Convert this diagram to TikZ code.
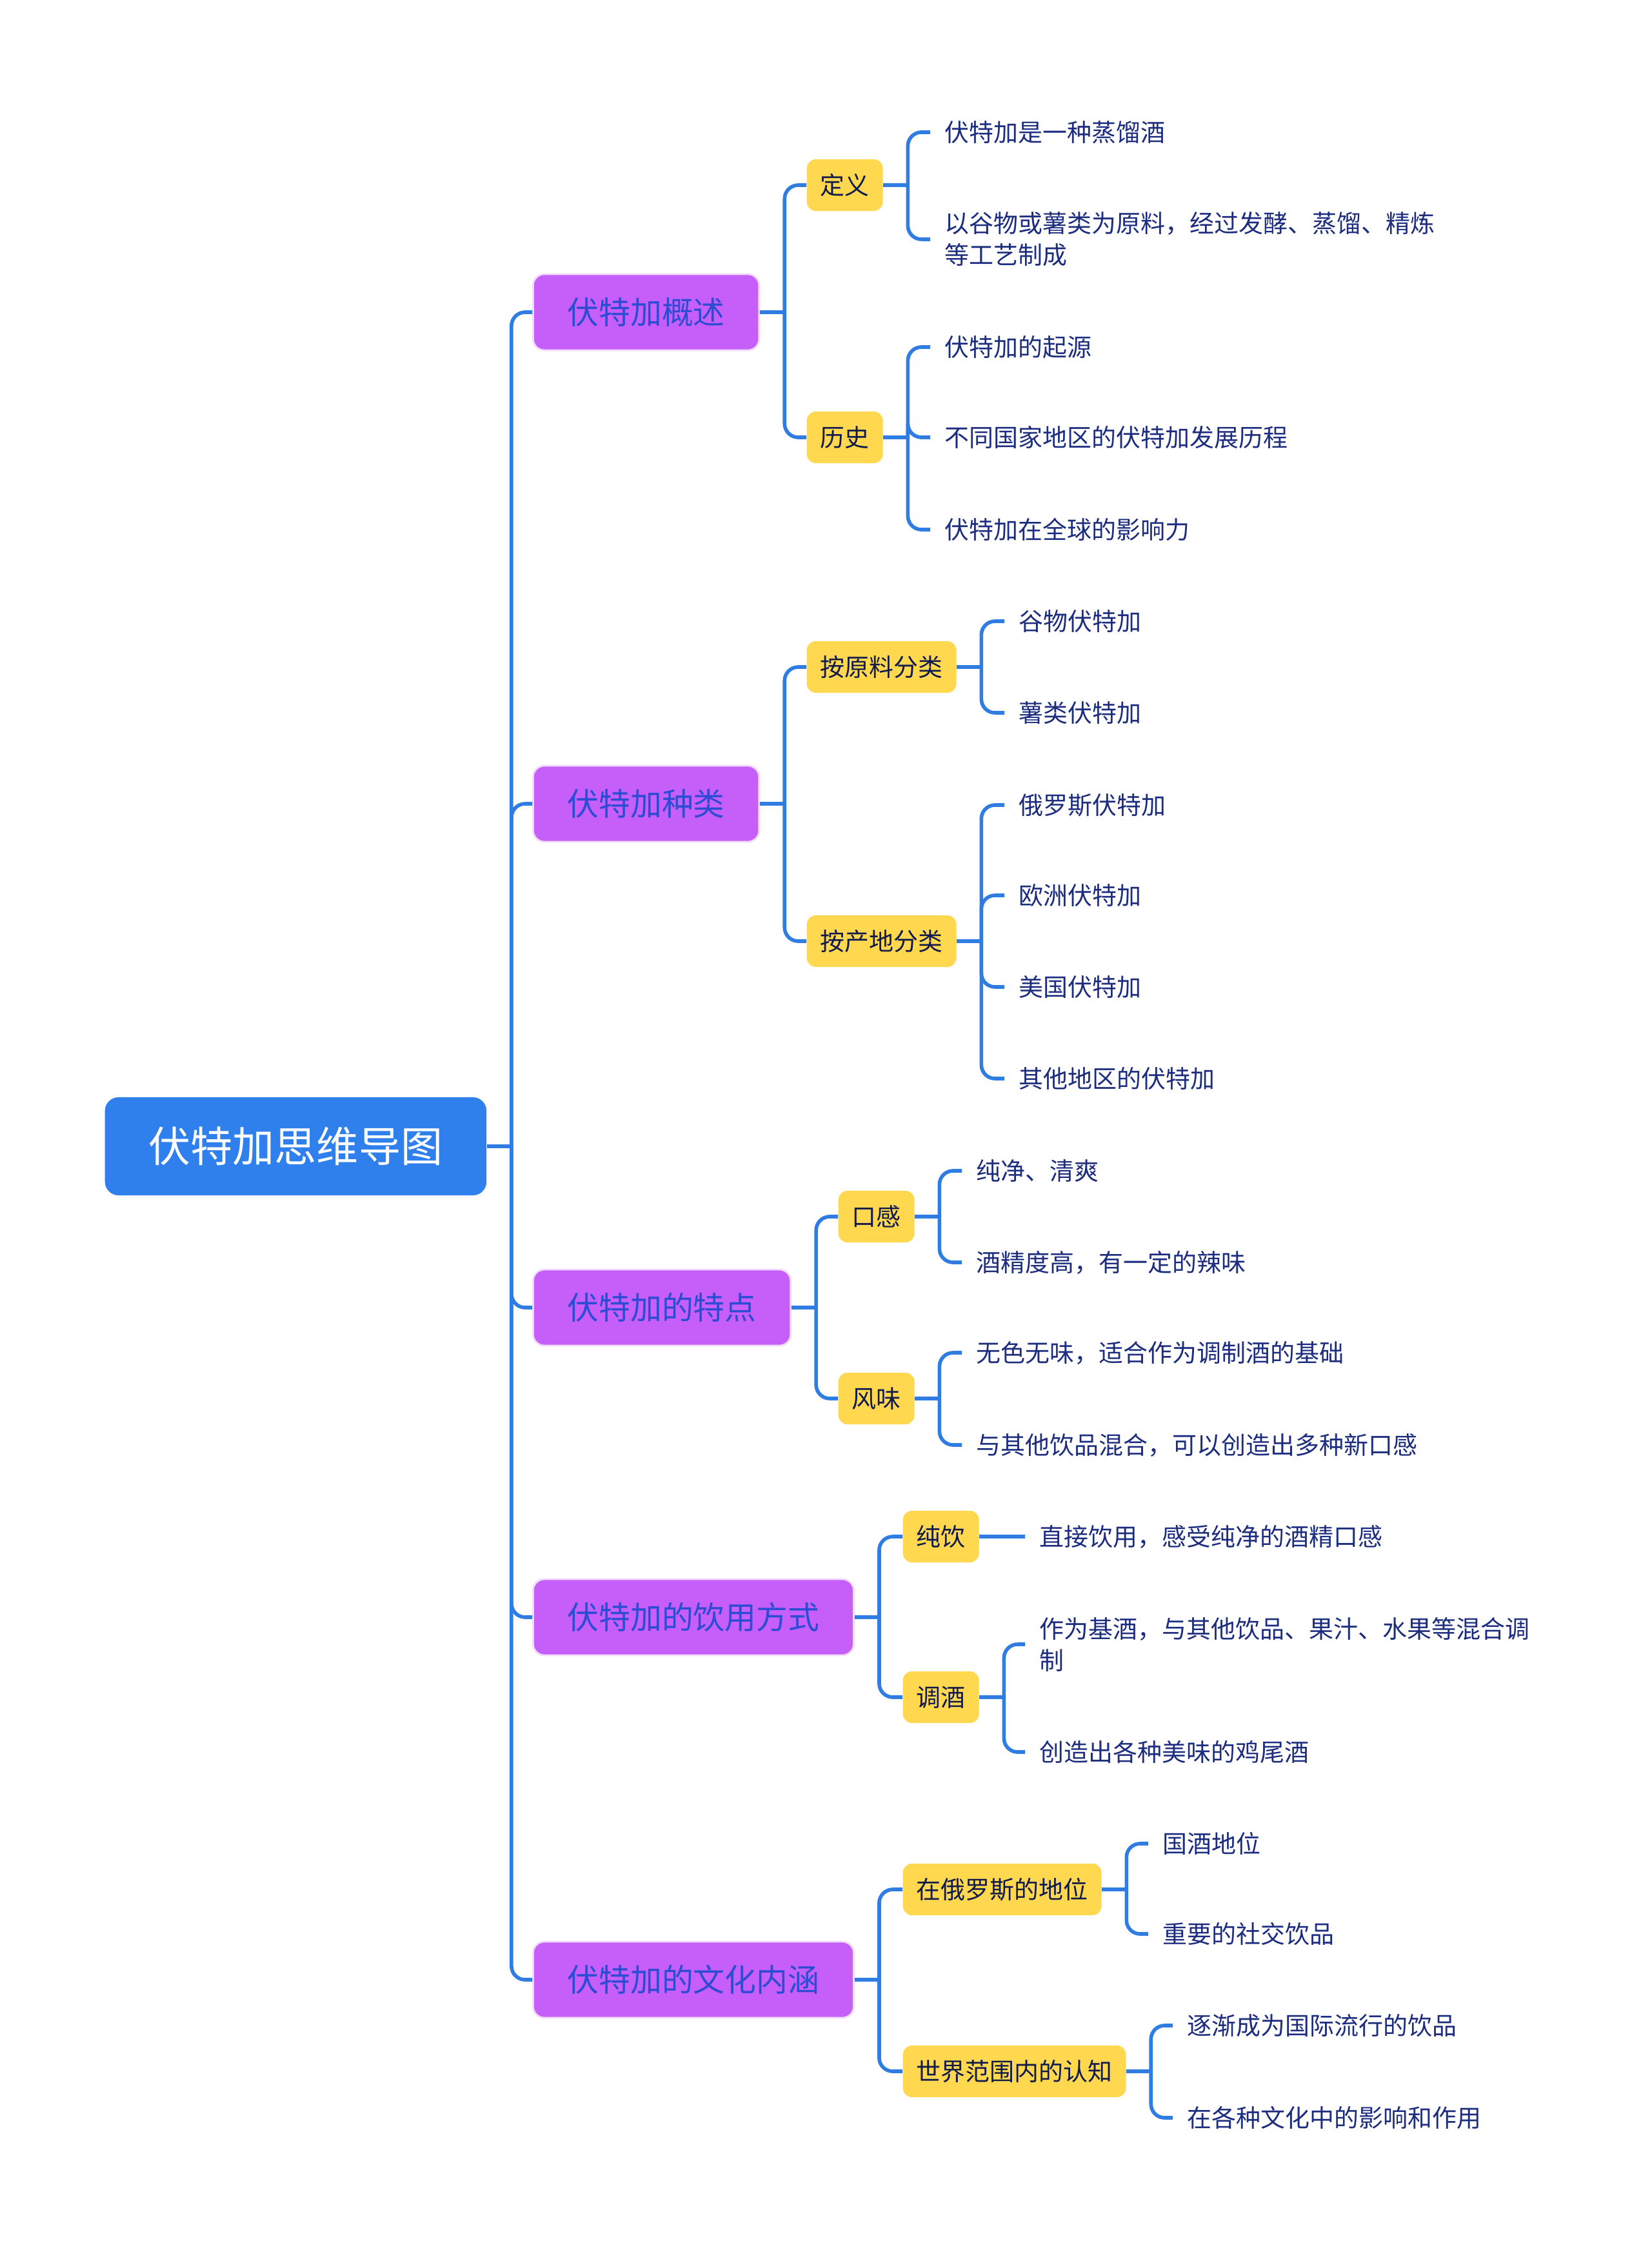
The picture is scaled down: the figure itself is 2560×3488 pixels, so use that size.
\documentclass[tikz,border=0pt]{standalone}
\usepackage{fontspec}
\setmainfont{Noto Sans CJK SC}
\usetikzlibrary{calc}
\definecolor{rootblue}{HTML}{2F80ED}
\definecolor{linkblue}{HTML}{2F7CE3}
\definecolor{topicpurple}{HTML}{C65FF9}
\definecolor{topicink}{HTML}{2B4CD3}
\definecolor{subyellow}{HTML}{FFD84F}
\definecolor{leafink}{HTML}{1C2C7E}
\tikzset{
  rootnode/.style  = {fill=rootblue, text=white, rounded corners=6pt, anchor=west,
                      minimum height=1.52cm, inner xsep=0.68cm,
                      font=\fontsize{18.5}{22}\selectfont},
  topicnode/.style = {fill=topicpurple, draw=topicpurple!22, line width=0.8pt,
                      text=topicink, rounded corners=5pt, anchor=west,
                      minimum height=1.18cm, inner xsep=0.53cm,
                      font=\fontsize{13.9}{17}\selectfont},
  subnode/.style   = {fill=subyellow, text=leafink!60!black, rounded corners=4pt,
                      anchor=west, minimum height=0.8cm, inner xsep=0.21cm,
                      font=\fontsize{10.8}{13.9}\selectfont},
  leafnode/.style  = {text=leafink, anchor=west, inner xsep=0.22cm, inner ysep=0pt,
                      align=left, font=\fontsize{10.8}{13.9}\selectfont},
  link/.style      = {draw=linkblue, line width=1.6pt, rounded corners=6pt},
}

\begin{document}
\begin{tikzpicture}[x=0.01cm, y=-0.01cm]
  \useasboundingbox (0,0) rectangle (2560,3488);
  \node[rootnode] (root) at (162,1777) {伏特加思维导图};
  % topics
  \node[topicnode] (ov)    at (825,484)  {伏特加概述};
  \node[topicnode] (kind)  at (825,1246) {伏特加种类};
  \node[topicnode] (feat)  at (825,2027) {伏特加的特点};
  \node[topicnode] (drink) at (825,2507) {伏特加的饮用方式};
  \node[topicnode] (cult)  at (825,3069) {伏特加的文化内涵};
  % sub topics
  \node[subnode] (def)    at (1250,287)  {定义};
  \node[subnode] (hist)   at (1250,678)  {历史};
  \node[subnode] (raw)    at (1250,1034) {按原料分类};
  \node[subnode] (orig)   at (1250,1459) {按产地分类};
  \node[subnode] (taste)  at (1299,1886) {口感};
  \node[subnode] (flavor) at (1299,2168) {风味};
  \node[subnode] (neat)   at (1399,2382) {纯饮};
  \node[subnode] (mix)    at (1399,2631) {调酒};
  \node[subnode] (rus)    at (1399,2929) {在俄罗斯的地位};
  \node[subnode] (world)  at (1399,3211) {世界范围内的认知};
  % leaves
  \node[leafnode] (def1)    at (1442,205)  {伏特加是一种蒸馏酒};
  \node[leafnode] (def2)    at (1442,371)  {以谷物或薯类为原料，经过发酵、蒸馏、精炼\\等工艺制成};
  \node[leafnode] (hist1)   at (1442,538)  {伏特加的起源};
  \node[leafnode] (hist2)   at (1442,678)  {不同国家地区的伏特加发展历程};
  \node[leafnode] (hist3)   at (1442,821)  {伏特加在全球的影响力};
  \node[leafnode] (raw1)    at (1557,963)  {谷物伏特加};
  \node[leafnode] (raw2)    at (1557,1105) {薯类伏特加};
  \node[leafnode] (orig1)   at (1557,1248) {俄罗斯伏特加};
  \node[leafnode] (orig2)   at (1557,1388) {欧洲伏特加};
  \node[leafnode] (orig3)   at (1557,1530) {美国伏特加};
  \node[leafnode] (orig4)   at (1557,1672) {其他地区的伏特加};
  \node[leafnode] (taste1)  at (1491,1815) {纯净、清爽};
  \node[leafnode] (taste2)  at (1491,1957) {酒精度高，有一定的辣味};
  \node[leafnode] (flavor1) at (1491,2097) {无色无味，适合作为调制酒的基础};
  \node[leafnode] (flavor2) at (1491,2240) {与其他饮品混合，可以创造出多种新口感};
  \node[leafnode] (neat1)   at (1589,2382) {直接饮用，感受纯净的酒精口感};
  \node[leafnode] (mix1)    at (1589,2549) {作为基酒，与其他饮品、果汁、水果等混合调\\制};
  \node[leafnode] (mix2)    at (1589,2716) {创造出各种美味的鸡尾酒};
  \node[leafnode] (rus1)    at (1780,2858) {国酒地位};
  \node[leafnode] (rus2)    at (1780,2998) {重要的社交饮品};
  \node[leafnode] (world1)  at (1818,3140) {逐渐成为国际流行的饮品};
  \node[leafnode] (world2)  at (1818,3283) {在各种文化中的影响和作用};
  % connectors
  \foreach \p/\c in {root/ov, root/kind, root/feat, root/drink, root/cult,
                     ov/def, ov/hist, kind/raw, kind/orig, feat/taste, feat/flavor,
                     drink/neat, drink/mix, cult/rus, cult/world,
                     def/def1, def/def2, hist/hist1, hist/hist2, hist/hist3,
                     raw/raw1, raw/raw2, orig/orig1, orig/orig2, orig/orig3, orig/orig4,
                     taste/taste1, taste/taste2, flavor/flavor1, flavor/flavor2,
                     mix/mix1, mix/mix2, rus/rus1, rus/rus2,
                     world/world1, world/world2} {
    \draw[link] (\p.east) -- ++(38,0);
    \draw[link] ($(\p.east)+(38,0)$) |- (\c.west);
  }
  \draw[link] (neat.east) -- (neat1.west);
\end{tikzpicture}
\end{document}
